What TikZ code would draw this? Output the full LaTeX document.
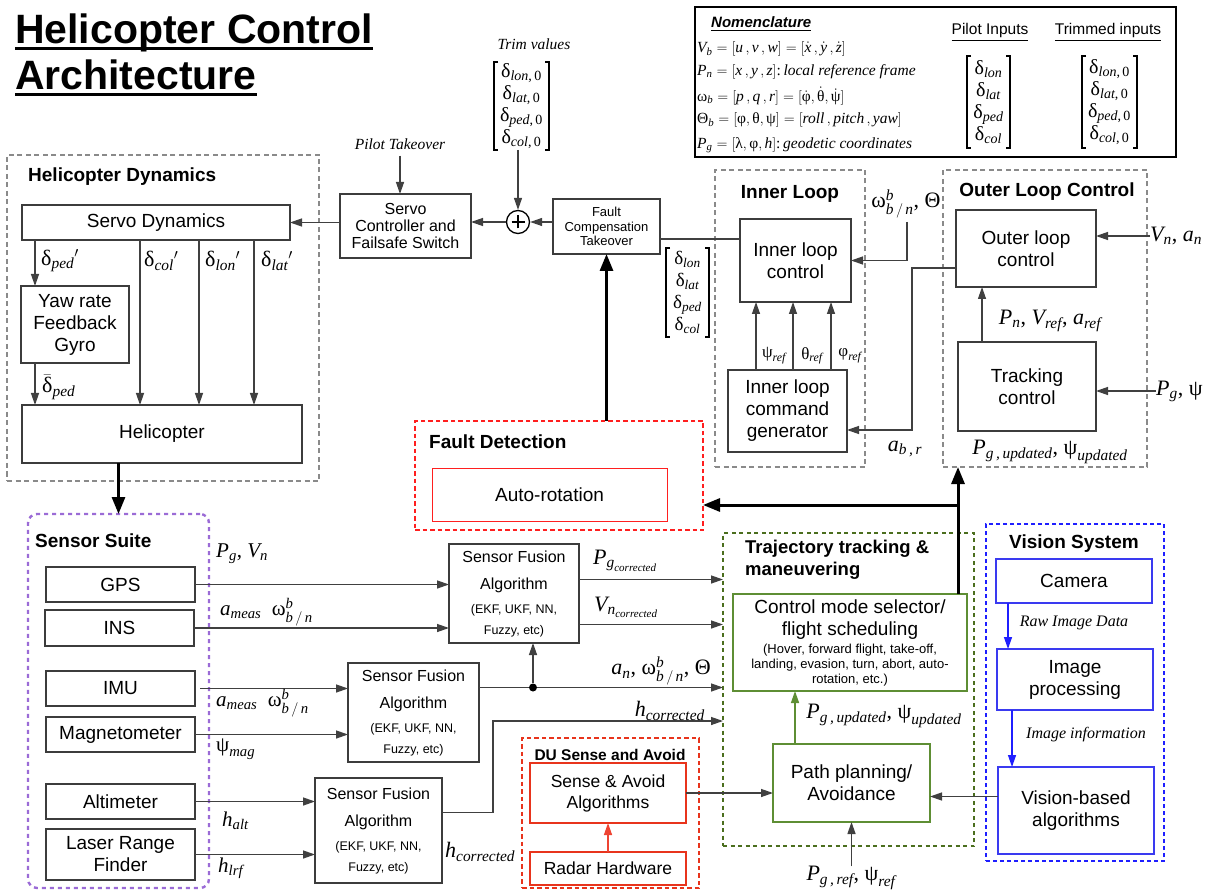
\documentclass[tikz,border=0pt]{standalone}
\usepackage{amsmath}
\usepackage{fontspec}
\setmainfont{Liberation Sans}
\newfontfamily\serif{Liberation Serif}
\usetikzlibrary{arrows.meta,calc}

\definecolor{boxc}{HTML}{3C3C3C}
\definecolor{linec}{HTML}{404040}
\definecolor{grayc}{HTML}{8A8A8A}
\definecolor{redc}{HTML}{FF1F1F}
\definecolor{dured}{HTML}{E8341C}
\definecolor{arred}{HTML}{EE4433}
\definecolor{purc}{HTML}{9B6BD6}
\definecolor{olivec}{HTML}{4B6E1E}
\definecolor{grnc}{HTML}{5E8E34}
\definecolor{bluc}{HTML}{1F1FFF}
\definecolor{boxblu}{HTML}{3A3AF0}

% math-style labels set in the serif text font
\newcommand{\mv}[1]{\text{\itshape #1}}
\newcommand{\mg}[1]{\text{\upshape #1}}
% box from top-left (x1,y1) to bottom-right (x2,y2)
\newcommand{\mkbox}[7][]{\node[blkbase,#1,anchor=north west,minimum width={(#5-#3)*1pt},minimum height={(#6-#4)*1pt}] (#2) at (#3,#4) {#7};}
% square brackets around a column vector node
\newcommand{\drawbrk}[1]{%
  \draw[brk] ([xshift=4pt]#1.north west) -- (#1.north west) -- (#1.south west) -- ([xshift=4pt]#1.south west);
  \draw[brk] ([xshift=-4pt]#1.north east) -- (#1.north east) -- (#1.south east) -- ([xshift=-4pt]#1.south east);}
\newcommand{\dvec}[1]{$\mg{δ}_{\mv{lon}#1}$\\$\mg{δ}_{\mv{lat}#1}$\\$\mg{δ}_{\mv{ped}#1}$\\$\mg{δ}_{\mv{col}#1}$}

\begin{document}
\begin{tikzpicture}[x=1pt,y=-1pt,
  blkbase/.style={inner sep=1pt,outer sep=0pt,align=center},
  box/.style={draw=boxc,line width=1.4pt,fill=white,font=\fontsize{19}{22}\selectfont},
  rbox/.style={draw=redc,line width=1pt,fill=white,font=\fontsize{19}{22}\selectfont},
  dbox/.style={draw=dured,line width=1.3pt,fill=white,font=\fontsize{17.5}{21}\selectfont},
  gbox/.style={draw=grnc,line width=1.5pt,fill=white,font=\fontsize{19}{22}\selectfont},
  bbox/.style={draw=boxblu,line width=1.6pt,fill=white,font=\fontsize{19}{22}\selectfont},
  plain/.style={draw=black,line width=1.2pt},
  sffont/.style={font=\fontsize{16}{27}\selectfont},
  grpgray/.style={draw=grayc,line width=2.4pt,dash pattern=on 5pt off 3.5pt},
  grpred/.style={draw=redc,line width=2.6pt,dash pattern=on 4.5pt off 3pt},
  grpdu/.style={draw=dured,line width=2.4pt,dash pattern=on 4.5pt off 3pt},
  grppur/.style={draw=purc,line width=2.4pt,dash pattern=on 4pt off 4pt,rounded corners=9pt},
  grpgrn/.style={draw=olivec,line width=2.4pt,dash pattern=on 4pt off 3.5pt},
  grpblu/.style={draw=bluc,line width=2.6pt,dash pattern=on 4pt off 3pt},
  grplbl/.style={font=\bfseries\fontsize{19}{22}\selectfont,inner sep=0pt,align=left},
  ttl/.style={font=\bfseries\fontsize{41}{44}\selectfont,inner sep=0pt},
  arr/.style={draw=linec,line width=1.3pt,-{Triangle[length=12pt,width=8pt]}},
  ln/.style={draw=linec,line width=1.3pt},
  tharr/.style={draw=black,line width=3pt,-{Triangle[length=17pt,width=13pt]}},
  garr/.style={draw=grnc,line width=1.4pt,-{Triangle[length=12pt,width=8pt]}},
  rarr/.style={draw=arred,line width=1.3pt,-{Triangle[length=12pt,width=8pt]}},
  barr/.style={draw=bluc,line width=1.4pt,-{Triangle[length=12pt,width=8pt]}},
  lbl/.style={font=\serif\fontsize{22}{24}\selectfont,inner sep=0pt},
  slbl/.style={font=\serif\fontsize{21}{24}\selectfont,inner sep=0pt},
  rlbl/.style={font=\serif\fontsize{17}{20}\selectfont,inner sep=0pt},
  itl/.style={font=\serif\itshape\fontsize{15.5}{18}\selectfont,inner sep=0pt},
  matx/.style={font=\serif\fontsize{20}{22}\selectfont},
  brk/.style={draw=black,line width=1.8pt},
  nom/.style={font=\serif\fontsize{15.5}{17}\selectfont,inner sep=0pt,anchor=west},
  sumc/.style={circle,draw=black,line width=1.3pt,fill=white,minimum size=23pt,inner sep=0pt,
    path picture={\draw[line width=1.8pt]
      ([xshift=-6.5pt]path picture bounding box.center) -- ([xshift=6.5pt]path picture bounding box.center)
      ([yshift=-6.5pt]path picture bounding box.center) -- ([yshift=6.5pt]path picture bounding box.center);}},
  dotn/.style={circle,fill=black,minimum size=8pt,inner sep=0pt},
]
\useasboundingbox (0,0) rectangle (1229,890);

% ---------- title ----------
\node[ttl,anchor=base west] (t1) at (15,44) {Helicopter Control};
\node[ttl,anchor=base west] (t2) at (15,90) {Architecture};
\draw[line width=3pt] ([yshift=-5pt]t1.base west) -- ([yshift=-5pt]t1.base east);
\draw[line width=3pt] ([yshift=-5pt]t2.base west) -- ([yshift=-5pt]t2.base east);

% ---------- nomenclature ----------
\mkbox[plain]{nombox}{695}{7}{1176}{157}{}
\node[font=\bfseries\itshape\fontsize{15}{17}\selectfont,inner sep=0pt,anchor=base west] (nomt) at (711,28) {\underline{Nomenclature}};
\node[nom] (n1) at (697,49) {$\mv{V}_{\mv{b}}=[\mv{u}\,, \mv{v}\,, \mv{w}]=[\dot{\mv{x}}\,, \dot{\mv{y}}\,, \dot{\mv{z}}]$};
\node[nom] (n2) at (697,72) {$\mv{P}_{\mv{n}}=[\mv{x}\,, \mv{y}\,, \mv{z}]$:\,{\itshape local reference frame}};
\node[nom] (n3) at (697,96) {$\mg{ω}_{\mv{b}}=[\mv{p}\,, \mv{q}\,, \mv{r}]=[\dot{\mg{φ}}, \dot{\mg{θ}}, \dot{\mg{ψ}}]$};
\node[nom] (n4) at (697,120) {$\mg{Θ}_{\mv{b}}=[\mg{φ}, \mg{θ}, \mg{ψ}]=[\mv{roll}\,, \mv{pitch}\,, \mv{yaw}]$};
\node[nom] (n5) at (697,145) {$\mv{P}_{\mv{g}}=[\mg{λ}, \mg{φ}, \mv{h}]$:\,{\itshape geodetic coordinates}};
\node[font=\fontsize{15.5}{18}\selectfont,inner sep=0pt] (pil) at (990,32) {\underline{Pilot Inputs}};
\node[font=\fontsize{15.5}{18}\selectfont,inner sep=0pt] (til) at (1108,32) {\underline{Trimmed inputs}};
\mkbox[matx]{pim}{967}{56}{1010}{148}{\dvec{}}
\drawbrk{pim}
\mkbox[matx]{tim}{1082}{56}{1137}{148}{\dvec{\mg{,\,0}}}
\drawbrk{tim}

% ---------- group frames ----------
\mkbox[grpgray]{hdg}{7}{155}{319}{481}{}
\mkbox[grpgray]{ilg}{715}{170}{865}{467}{}
\mkbox[grpgray]{olg}{943}{170}{1147}{467}{}
\mkbox[grpred]{fdg}{415}{421}{703}{530}{}
\mkbox[grppur]{ssg}{28}{514}{209}{888}{}
\mkbox[grpdu]{dug}{522}{738}{699}{888}{}
\mkbox[grpgrn]{ttg}{723}{533}{974}{846}{}
\mkbox[grpblu]{vsg}{986}{524}{1164}{861}{}

\node[grplbl,anchor=west] (hdl) at (28,177) {Helicopter Dynamics};
\node[grplbl] (ill) at (790,194) {Inner Loop};
\node[grplbl] (oll) at (1047,192) {Outer Loop Control};
\node[grplbl,anchor=west] (fdl) at (429,442) {Fault Detection};
\node[grplbl,anchor=west] (ssl) at (35,541) {Sensor Suite};
\node[grplbl,font=\bfseries\fontsize{15.5}{18}\selectfont] (dul) at (610,755) {DU Sense and Avoid};
\node[grplbl,anchor=north west,font=\bfseries\fontsize{18.5}{22}\selectfont] (ttl) at (745,540) {Trajectory tracking \&\\maneuvering};
\node[grplbl] (vsl) at (1074,544) {Vision System};

% ---------- blocks ----------
\mkbox[box]{servo}{22}{205}{290}{240}{Servo Dynamics}
\mkbox[box]{yaw}{21}{286}{129}{363}{Yaw rate\\Feedback\\Gyro}
\mkbox[box]{heli}{22}{405}{302}{463}{Helicopter}
\mkbox[box,font=\fontsize{16}{17}\selectfont]{sctrl}{340}{194}{471}{258}{Servo\\Controller and\\Failsafe Switch}
\mkbox[box,font=\fontsize{13}{14.5}\selectfont]{fct}{553}{199}{660}{254}{Fault\\Compensation\\Takeover}
\node[sumc] (sum) at (518,222) {};
\mkbox[matx]{trm}{494}{62}{549}{150}{\dvec{\mg{,\,0}}}
\drawbrk{trm}
\mkbox[matx,font=\serif\fontsize{19}{22}\selectfont]{dmx}{666}{248}{709}{337}{\dvec{}}
\drawbrk{dmx}

\mkbox[box]{ilc}{740}{219}{851}{302}{Inner loop\\control}
\mkbox[box]{gen}{728}{370}{847}{452}{Inner loop\\command\\generator}
\mkbox[box]{olc}{956}{210}{1096}{287}{Outer loop\\control}
\mkbox[box]{trk}{958}{342}{1096}{431}{Tracking\\control}
\mkbox[rbox]{auto}{432}{468}{667}{521}{Auto-rotation}

\mkbox[box]{gps}{46}{567}{195}{602}{GPS}
\mkbox[box]{ins}{45}{610}{194}{646}{INS}
\mkbox[box]{imu}{46}{671}{195}{706}{IMU}
\mkbox[box]{mag}{46}{717}{195}{752}{Magnetometer}
\mkbox[box]{alt}{46}{784}{195}{819}{Altimeter}
\mkbox[box]{lrf}{46}{829}{195}{880}{Laser Range\\Finder}

\mkbox[box,sffont]{sf1}{449}{544}{579}{643}{Sensor Fusion\\Algorithm\\[-3pt]\fontsize{12.5}{15}\selectfont(EKF, UKF, NN,\\[-6pt]\fontsize{12.5}{15}\selectfont Fuzzy, etc)}
\mkbox[box,sffont]{sf2}{348}{663}{479}{762}{Sensor Fusion\\Algorithm\\[-3pt]\fontsize{12.5}{15}\selectfont(EKF, UKF, NN,\\[-6pt]\fontsize{12.5}{15}\selectfont Fuzzy, etc)}
\mkbox[box,sffont]{sf3}{315}{778}{442}{883}{Sensor Fusion\\Algorithm\\[-3pt]\fontsize{12.5}{15}\selectfont(EKF, UKF, NN,\\[-6pt]\fontsize{12.5}{15}\selectfont Fuzzy, etc)}

\mkbox[dbox]{sa}{530}{763}{686}{823}{Sense \& Avoid\\Algorithms}
\mkbox[dbox]{rad}{530}{852}{686}{885}{Radar Hardware}

\mkbox[gbox]{cm}{733}{594}{967}{691}{Control mode selector/\\flight scheduling\\[-4pt]\fontsize{13}{15}\selectfont(Hover, forward flight, take-off,\\[-7pt]\fontsize{13}{15}\selectfont landing, evasion, turn, abort, auto-\\[-7pt]\fontsize{13}{15}\selectfont rotation, etc.)}
\mkbox[gbox]{pp}{773}{744}{930}{822}{Path planning/\\Avoidance}

\mkbox[bbox]{cam}{996}{559}{1152}{603}{Camera}
\mkbox[bbox]{ip}{997}{649}{1153}{710}{Image\\processing}
\mkbox[bbox]{vb}{998}{767}{1154}{854}{Vision-based\\algorithms}

% ---------- helicopter dynamics ----------
\draw[arr] (sctrl.west |- servo.east) -- (servo.east);
\node[itl] (pto) at (400,144) {Pilot Takeover};
\draw[arr,shorten <=6pt] (pto.south) -- (pto.south |- sctrl.north);
\node[itl] (trv) at (534,44) {Trim values};
\draw[arr] (sum.north |- trm.south) -- (sum.north);
\draw[arr] (sum.west) -- (sum.west -| sctrl.east);
\draw[arr] (fct.west |- sum.east) -- (sum.east);

\coordinate (d1) at ([xshift=13pt]servo.south west);
\draw[arr] (d1) -- (d1 |- yaw.north);
\coordinate (d1b) at (d1 |- yaw.south);
\draw[arr] (d1b) -- (d1b |- heli.north);
\coordinate (d2) at ([xshift=118pt]servo.south west);
\coordinate (d3) at ([xshift=177pt]servo.south west);
\coordinate (d4) at ([xshift=232pt]servo.south west);
\draw[arr] (d2) -- (d2 |- heli.north);
\draw[arr] (d3) -- (d3 |- heli.north);
\draw[arr] (d4) -- (d4 |- heli.north);
\node[lbl,anchor=west] (lped) at (41,261) {$\mg{δ}_{\mv{ped}}{}'$};
\node[lbl,anchor=west] (lcol) at (144,261) {$\mg{δ}_{\mv{col}}{}'$};
\node[lbl,anchor=west] (llon) at (205,261) {$\mg{δ}_{\mv{lon}}{}'$};
\node[lbl,anchor=west] (llat) at (261,261) {$\mg{δ}_{\mv{lat}}{}'$};
\node[lbl,anchor=west] (lpb) at (42,387) {$\bar{\mg{δ}}_{\mv{ped}}$};
\draw[tharr] (ssg.north |- heli.south) -- (ssg.north);

% ---------- fault compensation / inner loop ----------
\coordinate (ilcin) at ([yshift=-20pt]ilc.north west);
\draw[ln] (ilcin) -- (ilcin -| fct.east);
\draw[tharr] (fdg.north -| fct.south) -- (fct.south);

\coordinate (g1) at ([xshift=28pt]gen.north west);
\coordinate (g2) at ([xshift=65pt]gen.north west);
\coordinate (g3) at ([xshift=103pt]gen.north west);
\draw[arr] (g1) -- (g1 |- ilc.south);
\draw[arr] (g2) -- (g2 |- ilc.south);
\draw[arr] (g3) -- (g3 |- ilc.south);
\node[rlbl] (lpsi) at (774,356) {$\mg{ψ}_{\mv{ref}}$};
\node[rlbl] (lth) at (812,356) {$\mg{θ}_{\mv{ref}}$};
\node[rlbl] (lphi) at (850,356) {$\mg{φ}_{\mv{ref}}$};

\node[lbl] (oml) at (906,204) {$\mg{ω}^{\mv{b}}_{\mv{b}\,/\,\mv{n}}$, $\mg{Θ}$};
\coordinate (omt) at (907,222);
\draw[arr] (omt) |- (ilc.east);

% ---------- outer loop ----------
\coordinate (olcw) at ([yshift=-58pt]olc.north west);
\coordinate (abr) at (912,430);
\draw[arr] (olcw) -| (abr) -- (abr -| gen.east);
\node[lbl] (labr) at (905,449) {$\mv{a}_{\mv{b\,,\,r}}$};
\coordinate (tk) at ([xshift=24pt]trk.north west);
\draw[arr] (tk) -- (tk |- olc.south);
\node[lbl] (lpn) at (1050,321) {$\mv{P}_{\mv{n}}$, $\mv{V}_{\mv{ref}}$, $\mv{a}_{\mv{ref}}$};
\node[lbl,anchor=west] (vna) at (1150,236) {$\mv{V}_{\mv{n}}$, $\mv{a}_{\mv{n}}$};
\draw[arr] (vna.west) -- (vna.west -| olc.east);
\node[lbl,anchor=west] (pgp) at (1156,391) {$\mv{P}_{\mv{g}}$, $\mg{ψ}$};
\draw[arr] (pgp.west) -- (pgp.west -| trk.east);
\node[lbl] (lpgu) at (1050,452) {$\mv{P}_{\mv{g\,,\,updated}}$, $\mg{ψ}_{\mv{updated}}$};

% ---------- trajectory block outputs ----------
\coordinate (up1) at ([xshift=-9pt]cm.north east);
\draw[tharr] (up1) -- (up1 |- olg.south);
\coordinate (jn) at (958,505);
\draw[tharr] (jn) -- (jn -| fdg.east);

% ---------- sensors ----------
\draw[arr] (gps.east) -- (gps.east -| sf1.west);
\draw[arr] (ins.east) -- (ins.east -| sf1.west);
\draw[arr] ([xshift=5pt]imu.east) -- (imu.east -| sf2.west);
\draw[arr] (mag.east) -- (mag.east -| sf2.west);
\draw[arr] (alt.east) -- (alt.east -| sf3.west);
\draw[arr] (lrf.east) -- (lrf.east -| sf3.west);
\node[slbl,anchor=west] (lgps) at (216,554) {$\mv{P}_{\mv{g}}$, $\mv{V}_{\mv{n}}$};
\node[slbl,anchor=west] (lins) at (220,612) {$\mv{a}_{\mv{meas}}$\ \ $\mg{ω}^{\mv{b}}_{\mv{b}\,/\,\mv{n}}$};
\node[slbl,anchor=west] (limu) at (216,703) {$\mv{a}_{\mv{meas}}$\ \ $\mg{ω}^{\mv{b}}_{\mv{b}\,/\,\mv{n}}$};
\node[slbl,anchor=west] (lmag) at (216,749) {$\mg{ψ}_{\mv{mag}}$};
\node[slbl,anchor=west] (lalt) at (222,821) {$\mv{h}_{\mv{alt}}$};
\node[slbl,anchor=west] (llrf) at (218,868) {$\mv{h}_{\mv{lrf}}$};

\coordinate (o1) at ([yshift=14pt]sf1.east);
\coordinate (o2) at ([yshift=-31pt]sf1.east);
\draw[arr] (o1) -- (o1 -| ttg.west);
\draw[arr] (o2) -- (o2 -| ttg.west);
\node[lbl,anchor=west] (lpgc) at (593,561) {$\mv{P}_{\mv{g}_{\mv{corrected}}}$};
\node[lbl,anchor=west] (lvnc) at (594,607) {$\mv{V}_{\mv{n}_{\mv{corrected}}}$};

\coordinate (o3) at ([yshift=25pt]sf2.east);
\draw[arr] (o3) -- (o3 -| ttg.west);
\node[dotn] (dt) at (533,687.5) {};
\draw[arr] (dt) -- (dt |- sf1.south);
\node[lbl,anchor=east] (lan) at (711,671) {$\mv{a}_{\mv{n}}$, $\mg{ω}^{\mv{b}}_{\mv{b}\,/\,\mv{n}}$, $\mg{Θ}$};

\coordinate (o4) at ([yshift=18pt]sf3.east);
\coordinate (hc) at (493,721);
\draw[arr] (o4) -| (hc) -- (hc -| ttg.west);
\node[lbl,anchor=east] (lhc1) at (705,711) {$\mv{h}_{\mv{corrected}}$};
\node[lbl,anchor=west] (lhc2) at (445,852) {$\mv{h}_{\mv{corrected}}$};

% ---------- sense and avoid ----------
\draw[rarr] (rad.north) -- (sa.south);
\draw[arr] (sa.east) -- (sa.east -| pp.west);

% ---------- path planning ----------
\coordinate (pp1) at ([xshift=22pt]pp.north west);
\draw[garr] (pp1) -- (pp1 |- cm.south);
\node[lbl] (lpgu2) at (884,716) {$\mv{P}_{\mv{g\,,\,updated}}$, $\mg{ψ}_{\mv{updated}}$};
\node[lbl] (lpgr) at (851,878) {$\mv{P}_{\mv{g\,,\,ref}}$, $\mg{ψ}_{\mv{ref}}$};
\draw[arr] (lpgr.north -| pp.south) -- (pp.south);

% ---------- vision ----------
\coordinate (c1) at ([xshift=12pt]cam.south west);
\draw[barr] (c1) -- (c1 |- ip.north);
\coordinate (c2) at ([xshift=15pt]ip.south west);
\draw[barr] (c2) -- (c2 |- vb.north);
\node[itl,font=\serif\itshape\fontsize{16}{18}\selectfont] (lraw) at (1074,623) {Raw Image Data};
\node[itl,font=\serif\itshape\fontsize{16}{18}\selectfont] (linf) at (1086,735) {Image information};
\coordinate (v1) at ([yshift=14pt]vb.west);
\draw[arr] (v1) -- (v1 -| pp.east);
\end{tikzpicture}
\end{document}
